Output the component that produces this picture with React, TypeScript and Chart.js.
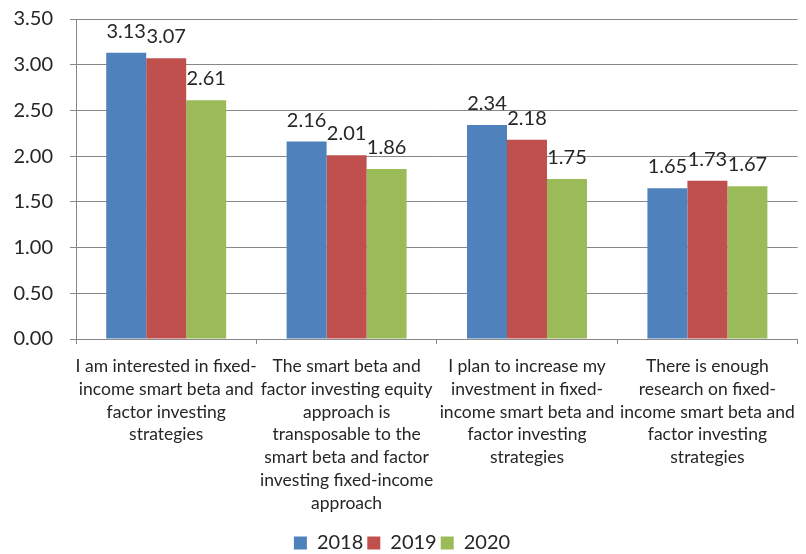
import React, { useEffect, useRef } from "react";
import { Chart, registerables } from "chart.js";

Chart.register(...registerables);

const categories: string[][] = [
  ["I am interested in fixed-", "income smart beta and", "factor investing", "strategies"],
  ["The smart beta and", "factor investing equity", "approach is", "transposable to the", "smart beta and factor", "investing fixed-income", "approach"],
  ["I plan to increase my", "investment in fixed-", "income smart beta and", "factor investing", "strategies"],
  ["There is enough", "research on fixed-", "income smart beta and", "factor investing", "strategies"],
];
const series2018 = [3.13, 2.16, 2.34, 1.65];
const series2019 = [3.07, 2.01, 2.18, 1.73];
const series2020 = [2.61, 1.86, 1.75, 1.67];
const seriesNames = ["2018", "2019", "2020"];
const seriesColors = ["#4F81BD", "#C0504D", "#9BBB59"];

const FONT = 'Lato, "Open Sans", sans-serif';

const valueLabels = {
  id: "valueLabels",
  afterDatasetsDraw(chart: any) {
    const ctx = chart.ctx;
    ctx.save();
    ctx.font = `20px ${FONT}`;
    ctx.fillStyle = "#262626";
    ctx.textAlign = "center";
    ctx.textBaseline = "alphabetic";
    chart.data.datasets.forEach((ds: any, i: number) => {
      const meta = chart.getDatasetMeta(i);
      meta.data.forEach((el: any, j: number) => {
        ctx.fillText(Number(ds.data[j]).toFixed(2), el.x, el.y - 15);
      });
    });
    ctx.restore();
  },
};

const legendShift = {
  id: "legendShift",
  afterLayout(chart: any) {
    const lg = chart.legend;
    if (lg) {
      lg.top += 9;
      lg.bottom += 9;
    }
  },
};

export default function App() {
  const ref = useRef<HTMLCanvasElement>(null);
  useEffect(() => {
    document.body.style.margin = "0";
    const chart = new Chart(ref.current!, {
      type: "bar",
      data: {
        labels: categories,
        datasets: [series2018, series2019, series2020].map((d, i) => ({
          label: seriesNames[i],
          data: d,
          backgroundColor: seriesColors[i],
          borderWidth: 0,
          barPercentage: 1,
          categoryPercentage: 0.665,
        })),
      },
      options: {
        animation: false,
        responsive: false,
        layout: { padding: { top: 19, right: 2, left: 0, bottom: 0 } },
        plugins: {
          legend: {
            position: "bottom",
            labels: {
              boxWidth: 13,
              boxHeight: 13,
              padding: 4,
              color: "#262626",
              font: { family: FONT, size: 20 },
            },
          },
          tooltip: { enabled: false },
        },
        scales: {
          x: {
            grid: { drawOnChartArea: false, drawTicks: true, tickLength: 5, color: "#888" },
            border: { display: true, color: "#888" },
            ticks: {
              color: "#262626",
              font: { family: FONT, size: 17.5, lineHeight: 1.3 },
              maxRotation: 0,
              autoSkip: false,
              padding: 11,
            },
            afterFit(scale: any) {
              scale.height = 181;
            },
          },
          y: {
            min: 0,
            max: 3.5,
            ticks: {
              stepSize: 0.5,
              color: "#262626",
              font: { family: FONT, size: 20 },
              padding: 17,
              callback: (v: any) => Number(v).toFixed(2),
            },
            grid: { color: "#888", tickLength: 6 },
            border: { display: true, color: "#888" },
            afterFit(scale: any) {
              scale.width = 76;
              scale.paddingTop = 10;
              scale.paddingBottom = 10;
            },
          },
        },
      },
      plugins: [valueLabels, legendShift],
    });
    return () => chart.destroy();
  }, []);
  return <canvas ref={ref} width={806} height={554} style={{ display: "block" }} />;
}
